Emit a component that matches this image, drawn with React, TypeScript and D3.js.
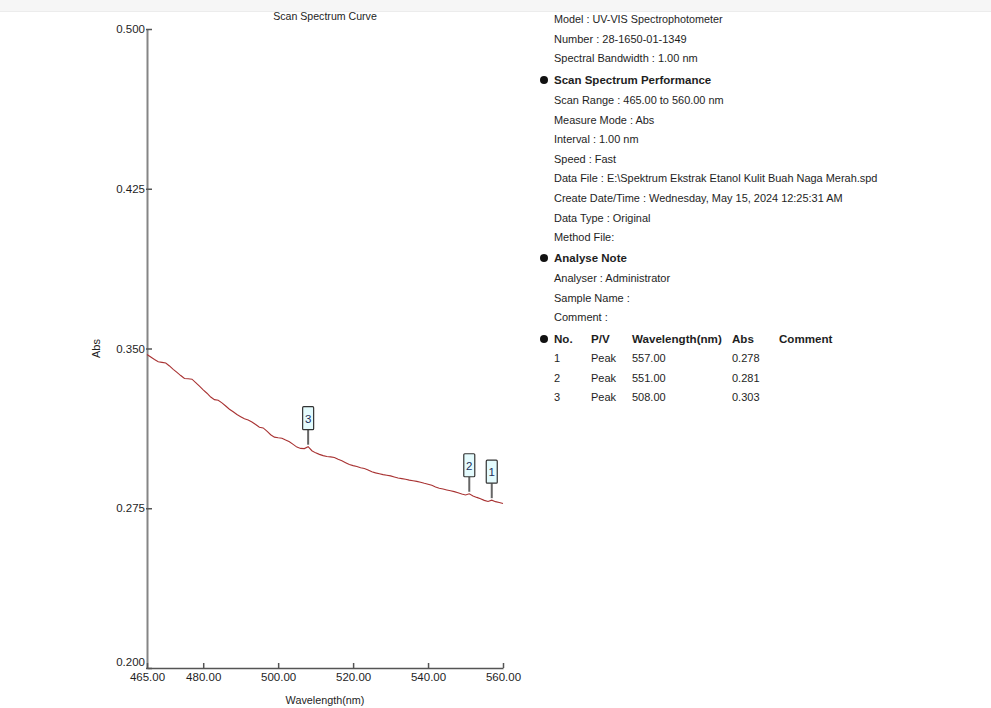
import React, { useEffect, useRef } from 'react';
import * as d3 from 'd3';

// wavelength grid of the scan (1.00 nm interval)
const wavelengths: number[] = d3.range(465, 561, 1);

// absorbance, one per nm from 465 to 560
const absValues: number[] = [
  0.3472, 0.3460, 0.3448, 0.3438, 0.3435, 0.3432, 0.3418, 0.3402, 0.3388, 0.3373,
  0.3359, 0.3358, 0.3356, 0.3340, 0.3323, 0.3306, 0.3290, 0.3272, 0.3260, 0.3257,
  0.3245, 0.3230, 0.3215, 0.3203, 0.3190, 0.3180, 0.3170, 0.3164, 0.3155, 0.3143,
  0.3130, 0.3127, 0.3112, 0.3095, 0.3084, 0.3081, 0.3079, 0.3070, 0.3062, 0.3050,
  0.3037, 0.3031, 0.3030, 0.3039, 0.3020, 0.3010, 0.3003, 0.2997, 0.2993, 0.2991,
  0.2988, 0.2980, 0.2973, 0.2964, 0.2955, 0.2950, 0.2946, 0.2940, 0.2937, 0.2930,
  0.2921, 0.2916, 0.2912, 0.2908, 0.2905, 0.2902, 0.2897, 0.2892, 0.2889, 0.2886,
  0.2882, 0.2879, 0.2876, 0.2872, 0.2867, 0.2863, 0.2858, 0.2850, 0.2844, 0.2840,
  0.2836, 0.2832, 0.2828, 0.2823, 0.2817, 0.2812, 0.2818, 0.2808, 0.2801, 0.2795,
  0.2787, 0.2782, 0.2788, 0.2781, 0.2777, 0.2772
];

// peak table
const peakNo: string[] = ['1', '2', '3'];
const peakType: string[] = ['Peak', 'Peak', 'Peak'];
const peakWl: number[] = [557, 551, 508];
const peakAbs: number[] = [0.278, 0.281, 0.303];

const xTicks: number[] = [465, 480, 500, 520, 540, 560];
const yTicks: number[] = [0.2, 0.275, 0.35, 0.425, 0.5];

const infoTop: string[] = [
  'Model : UV-VIS Spectrophotometer',
  'Number : 28-1650-01-1349',
  'Spectral Bandwidth : 1.00 nm'
];
const infoScan: string[] = [
  'Scan Range : 465.00 to 560.00 nm',
  'Measure Mode : Abs',
  'Interval : 1.00 nm',
  'Speed : Fast',
  'Data File : E:\\Spektrum Ekstrak Etanol Kulit Buah Naga Merah.spd',
  'Create Date/Time : Wednesday, May 15, 2024 12:25:31 AM',
  'Data Type : Original',
  'Method File:'
];
const infoNote: string[] = ['Analyser : Administrator', 'Sample Name :', 'Comment :'];
const tableHead: string[] = ['No.', 'P/V', 'Wavelength(nm)', 'Abs', 'Comment'];

const FONT = '"Liberation Sans", Arial, sans-serif';
const TEXT = '#1e1e1e';

export default function App() {
  const ref = useRef<SVGSVGElement>(null);

  useEffect(() => {
    if (!ref.current) return;
    const svg = d3.select(ref.current);
    svg.selectAll('*').remove();

    // faint header band
    svg.append('rect').attr('x', 0).attr('y', 0).attr('width', 991).attr('height', 11).attr('fill', '#f6f6f6');
    svg.append('line').attr('x1', 0).attr('x2', 991).attr('y1', 11.5).attr('y2', 11.5).attr('stroke', '#ececec');

    const x = d3.scaleLinear().domain([465, 560]).range([147, 503]);
    const y = d3.scaleLinear().domain([0.2, 0.5]).range([668, 29]);

    // title
    svg.append('text')
      .attr('x', 325).attr('y', 20)
      .attr('text-anchor', 'middle')
      .attr('font-family', FONT).attr('font-size', 10.6).attr('fill', TEXT)
      .text('Scan Spectrum Curve');

    // y axis
    const yAxis = svg.append('g')
      .attr('transform', `translate(${x(465)},0)`)
      .call(d3.axisLeft(y).tickValues(yTicks).tickFormat(d3.format('.3f')).tickSizeInner(-5).tickSizeOuter(0).tickPadding(2));
    yAxis.select('.domain').attr('stroke', '#858585').attr('stroke-width', 2);
    yAxis.selectAll('.tick line').attr('stroke', '#555').attr('stroke-width', 1.5).attr('x1', -1);
    yAxis.selectAll('.tick text')
      .attr('font-family', FONT).attr('font-size', 11.5).attr('fill', TEXT)
      .attr('dy', (d: any) => (d === 0.2 ? '-0.2em' : '0.32em'));

    // x axis
    const xAxis = svg.append('g')
      .attr('transform', `translate(0,${y(0.2)})`)
      .call(d3.axisBottom(x).tickValues(xTicks).tickFormat(d3.format('.2f')).tickSizeInner(-5).tickSizeOuter(0).tickPadding(5));
    xAxis.select('.domain').attr('stroke', '#555').attr('stroke-width', 1.5);
    xAxis.selectAll('.tick line').attr('stroke', '#555').attr('stroke-width', 1.5);
    xAxis.selectAll('.tick text')
      .attr('font-family', FONT).attr('font-size', 11.5).attr('fill', TEXT);

    // axis titles
    svg.append('text')
      .attr('x', 325).attr('y', 704)
      .attr('text-anchor', 'middle')
      .attr('font-family', FONT).attr('font-size', 10.8).attr('fill', TEXT)
      .text('Wavelength(nm)');
    svg.append('text')
      .attr('transform', `translate(100,${y(0.35)}) rotate(-90)`)
      .attr('text-anchor', 'middle')
      .attr('font-family', FONT).attr('font-size', 11).attr('fill', TEXT)
      .text('Abs');

    // spectrum
    const pts = wavelengths.map((w, i) => [w, absValues[i]] as [number, number]);
    const line = d3.line<[number, number]>().x(d => x(d[0])).y(d => y(d[1]));
    svg.append('path')
      .datum(pts)
      .attr('d', line)
      .attr('fill', 'none')
      .attr('stroke', '#a83232')
      .attr('stroke-width', 1.1);

    // peak markers
    peakWl.forEach((w, i) => {
      const px = x(w);
      const py = y(absValues[wavelengths.indexOf(w)]);
      const g = svg.append('g');
      g.append('line')
        .attr('x1', px).attr('x2', px)
        .attr('y1', py - 2).attr('y2', py - 17)
        .attr('stroke', '#666').attr('stroke-width', 2);
      g.append('rect')
        .attr('x', px - 5.5).attr('y', py - 40)
        .attr('width', 11).attr('height', 23)
        .attr('fill', '#e4fbfd').attr('stroke', '#333').attr('stroke-width', 1.2).attr('rx', 1);
      g.append('text')
        .attr('x', px).attr('y', py - 24)
        .attr('text-anchor', 'middle')
        .attr('font-family', FONT).attr('font-size', 11.5).attr('fill', '#1d2d5a')
        .text(peakNo[i]);
    });

    // information panel
    const lx = 554;
    const addText = (t: string, yy: number, bold = false, size = 11, xx = lx) =>
      svg.append('text')
        .attr('x', xx).attr('y', yy)
        .attr('font-family', FONT).attr('font-size', size)
        .attr('font-weight', bold ? 'bold' : 'normal')
        .attr('fill', TEXT)
        .text(t);
    const bullet = (yy: number) =>
      svg.append('circle').attr('cx', 544).attr('cy', yy - 4).attr('r', 4).attr('fill', '#111');

    infoTop.forEach((t, i) => addText(t, 23 + i * 19.6, false, i === 0 ? 10.8 : 11));
    bullet(84);
    addText('Scan Spectrum Performance', 84, true, 11.5);
    infoScan.forEach((t, i) => addText(t, 104 + i * 19.6, false, 10.95));
    bullet(262);
    addText('Analyse Note', 262, true, 11.5);
    infoNote.forEach((t, i) => addText(t, 282 + i * 19.5));

    const cols = [554, 591, 632, 732, 779];
    bullet(343);
    tableHead.forEach((t, i) => addText(t, 343, true, 11.6, cols[i]));
    peakNo.forEach((n, i) => {
      const yy = 362 + i * 19.6;
      addText(n, yy, false, 11, cols[0]);
      addText(peakType[i], yy, false, 11, cols[1]);
      addText(d3.format('.2f')(peakWl[i]), yy, false, 11, cols[2]);
      addText(d3.format('.3f')(peakAbs[i]), yy, false, 11, cols[3]);
    });
  }, []);

  return (
    <svg
      ref={ref}
      width={991}
      height={708}
      style={{ position: 'absolute', left: 0, top: 0, background: '#fff', display: 'block' }}
    />
  );
}
